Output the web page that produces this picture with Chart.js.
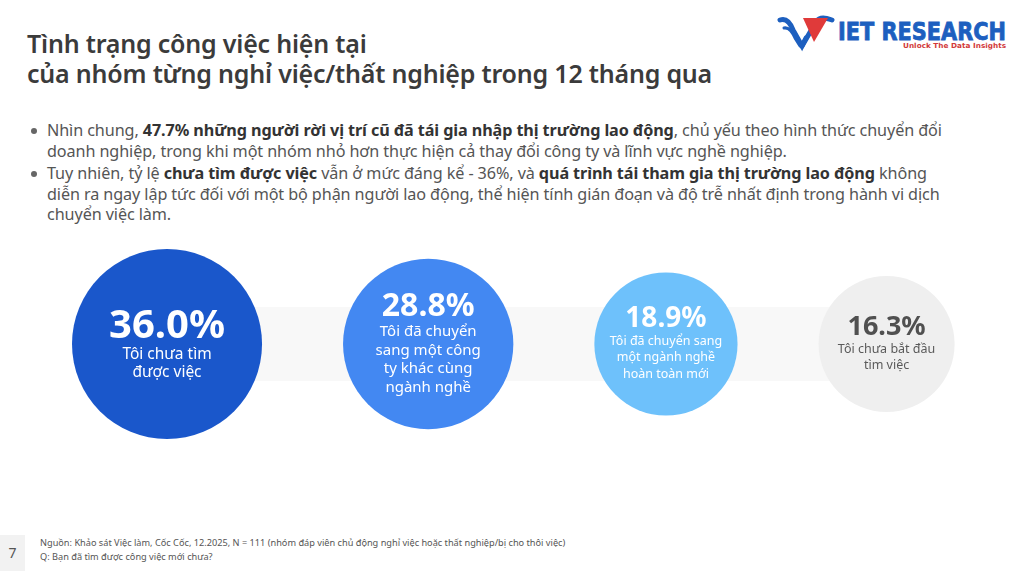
<!DOCTYPE html>
<html lang="vi">
<head>
<meta charset="utf-8">
<script src="https://cdn.jsdelivr.net/npm/chart.js@4.4.1/dist/chart.umd.min.js"></script>
<style>
  html, body { margin: 0; padding: 0; background: #fff; }
  body { width: 1024px; height: 574px; position: relative; overflow: hidden; font-family: "Noto Sans", sans-serif; }
  .title { position: absolute; left: 27px; top: 28px; font-size: 25px; line-height: 30px; font-weight: 600; color: #3b3b3b; letter-spacing: -0.2px; white-space: nowrap; }
  .bullets { position: absolute; left: 31px; top: 120px; font-size: 16.2px; line-height: 20.5px; color: #555; white-space: nowrap; letter-spacing: -0.1px; }
  .bullets .item { position: relative; padding-left: 16px; margin-bottom: 2px; }
  .bullets .item::before { content: ""; position: absolute; left: 0; top: 8px; width: 6px; height: 6px; border-radius: 50%; background: #666; }
  .bullets b { color: #333; font-weight: 700; }
  #wrap { position: absolute; left: 0; top: 224px; width: 1024px; height: 240px; }
  .pageno { position: absolute; left: 0; top: 535px; width: 25px; height: 36px; background: #f2f2f2; color: #555; font-size: 14px; line-height: 36px; text-align: center; }
  .source { position: absolute; left: 40px; top: 536px; font-size: 9.2px; line-height: 14px; color: #555; white-space: nowrap; }
  .logo { position: absolute; left: 776px; top: 10px; }
</style>
</head>
<body>
<div class="title">Tình trạng công việc hiện tại<br>của nhóm từng nghỉ việc/thất nghiệp trong 12 tháng qua</div>

<div class="bullets">
  <div class="item">Nhìn chung, <b>47.7% những người rời vị trí cũ đã tái gia nhập thị trường lao động</b>, chủ yếu theo hình thức chuyển đổi<br>doanh nghiệp, trong khi một nhóm nhỏ hơn thực hiện cả thay đổi công ty và lĩnh vực nghề nghiệp.</div>
  <div class="item">Tuy nhiên, tỷ lệ <b>chưa tìm được việc</b> vẫn ở mức đáng kể - 36%, và <b>quá trình tái tham gia thị trường lao động</b> không<br>diễn ra ngay lập tức đối với một bộ phận người lao động, thể hiện tính gián đoạn và độ trễ nhất định trong hành vi dịch<br>chuyển việc làm.</div>
</div>

<svg class="logo" width="240" height="42" viewBox="0 0 240 42">
  <path d="M4 10 C10 8 14 12 17 20 L26 36 L30 28" fill="none" stroke="#1d5fbf" stroke-width="5" stroke-linecap="round"/>
  <path d="M8 18 C13 17 16 21 19 28 L24 36" fill="none" stroke="#1d5fbf" stroke-width="3" stroke-linecap="round"/>
  <path d="M26 36 L40 12 C44 6 50 8 56 10" fill="none" stroke="#1d5fbf" stroke-width="5" stroke-linecap="round"/>
  <polygon points="27,8 52,8 45,20 38,32" fill="#e03a3a"/>
  <text x="62" y="30" textLength="168" lengthAdjust="spacingAndGlyphs" font-family="DejaVu Sans" font-weight="bold" font-size="24" fill="#1d5fbf" stroke="#1d5fbf" stroke-width="0.8">IET RESEARCH</text>
  <text x="127" y="38" textLength="103" lengthAdjust="spacingAndGlyphs" font-family="DejaVu Sans" font-weight="bold" font-size="7" fill="#d23a3a">Unlock The Data Insights</text>
</svg>

<div id="wrap"><canvas id="bubbles"></canvas></div>

<div class="pageno">7</div>
<div class="source">Nguồn: Khảo sát Việc làm, Cốc Cốc, 12.2025, N = 111 (nhóm đáp viên chủ động nghỉ việc hoặc thất nghiệp/bị cho thôi việc)<br>Q: Bạn đã tìm được công việc mới chưa?</div>

<script>
// data
const categories = [
  ['Tôi chưa tìm', 'được việc'],
  ['Tôi đã chuyển', 'sang một công', 'ty khác cùng', 'ngành nghề'],
  ['Tôi đã chuyển sang', 'một ngành nghề', 'hoàn toàn mới'],
  ['Tôi chưa bắt đầu', 'tìm việc']
];
const shares = [36.0, 28.8, 18.9, 16.3];

// styles
const bubbleColors = ['#1a57cb', '#4388f2', '#6ec1fb', '#efefef'];
const valueColors = ['#fff', '#fff', '#fff', '#505050'];
const labelColors = ['#fff', '#fff', '#fff', '#5a5a5a'];
const valueSizes = [40, 32, 28, 27];
const labelSizes = [15.5, 15, 12.5, 12.5];
const lineHeights = [18, 18.5, 16.5, 16.5];

// radius grows linearly with share, circles sit side by side with a fixed gap
const radius = v => 45.7 + 1.37 * v;
const gap = 81;
const startX = 72;
const xs = [];
shares.forEach((v, i) => {
  const r = radius(v);
  xs.push(i === 0 ? startX + r : xs[i - 1] + radius(shares[i - 1]) + gap + r);
});

const bandPlugin = {
  id: 'band',
  beforeDatasetsDraw(chart) {
    const pts = chart.getDatasetMeta(0).data;
    const c = chart.ctx;
    const y = pts[0].y;
    c.save();
    c.fillStyle = '#f8f8f8';
    c.fillRect(pts[0].x, y - 37, pts[pts.length - 1].x - pts[0].x, 74);
    c.restore();
  }
};

const textPlugin = {
  id: 'bubbleText',
  afterDatasetsDraw(chart) {
    const c = chart.ctx;
    chart.getDatasetMeta(0).data.forEach((pt, i) => {
      const vs = valueSizes[i], lh = lineHeights[i];
      const lines = categories[i];
      const firstOff = 0.45 * vs + 0.5 * lh + 1;
      const top = -vs / 2, bottom = firstOff + (lines.length - 1) * lh + lh / 2;
      const mid = pt.y - (top + bottom) / 2;
      c.save();
      c.textAlign = 'center';
      c.textBaseline = 'middle';
      c.fillStyle = valueColors[i];
      c.font = '700 ' + vs + 'px "Noto Sans"';
      c.fillText(shares[i].toFixed(1) + '%', pt.x, mid);
      c.fillStyle = labelColors[i];
      c.font = '400 ' + labelSizes[i] + 'px "Noto Sans"';
      lines.forEach((t, j) => c.fillText(t, pt.x, mid + firstOff + j * lh));
      c.restore();
    });
  }
};

new Chart(document.getElementById('bubbles'), {
  type: 'bubble',
  data: {
    datasets: [{
      data: shares.map((v, i) => ({ x: xs[i], y: 0, r: radius(v) })),
      backgroundColor: bubbleColors,
      borderWidth: 0,
      hoverBorderWidth: 0,
      hoverRadius: 0,
      clip: false
    }]
  },
  options: {
    responsive: true,
    maintainAspectRatio: false,
    animation: false,
    layout: { padding: 0, autoPadding: false },
    plugins: { legend: { display: false }, tooltip: { enabled: false } },
    scales: {
      x: { type: 'linear', min: 0, max: 1024, display: false },
      y: { type: 'linear', min: -1, max: 1, display: false }
    }
  },
  plugins: [bandPlugin, textPlugin]
});
</script>
</body>
</html>
